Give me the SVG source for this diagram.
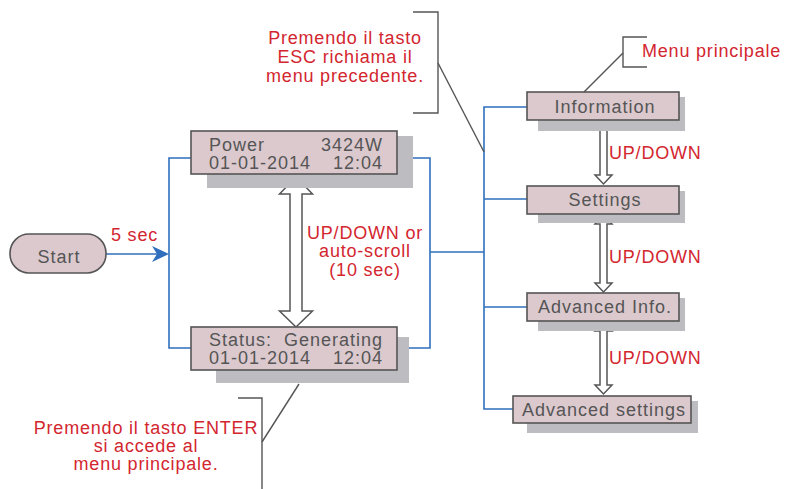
<svg xmlns="http://www.w3.org/2000/svg" width="785" height="489" viewBox="0 0 785 489">
<style>
.box{fill:#dbc9ce;stroke:#555;stroke-width:1.6}
.sh{fill:#bdbdc1}
.t{font-family:"Liberation Sans",Arial,sans-serif;font-size:18px;fill:#555;letter-spacing:1px}
.r{font-family:"Liberation Sans",Arial,sans-serif;font-size:18px;fill:#d3262f;letter-spacing:0.8px}
.c{stroke:#2f6fbd;stroke-width:1.6;fill:none}
.k{stroke:#555;stroke-width:1.4;fill:none}
.ha{fill:#fff;stroke:#555;stroke-width:1.5}
</style>
<rect width="785" height="489" fill="#fff"/>
<g id="connectors">
<path class="c" d="M106,254 H160"/>
<polygon points="169,254 152,246 157,254 152,262" fill="#2f6fbd"/>
<path class="c" d="M191,158 H169 V348 H191"/>
<path class="c" d="M397,158 H430 V348 H409"/>
<path class="c" d="M430,252 H484"/>
<path class="c" d="M527,107 H484 V409 H513"/>
<path class="c" d="M484,199 H527"/>
<path class="c" d="M484,307 H527"/>
<polygon class="ha" points="296,177 312.5,194 302,194 302,311 312.5,311 296,327 279.5,311 290,311 290,194 279.5,194"/>
<polygon class="ha" points="603.5,121 612,130 607,130 607,175 612,175 603.5,184 595,175 600,175 600,130 595,130"/>
<polygon class="ha" points="603.5,215 612,224 607,224 607,283 612,283 603.5,292 595,283 600,283 600,224 595,224"/>
<polygon class="ha" points="603.5,322 612,331 607,331 607,385 612,385 603.5,394 595,385 600,385 600,331 595,331"/>
</g>
<g id="start">
<rect x="10" y="234" width="96" height="39" rx="19" class="box"/>
<text x="59" y="263" class="t" text-anchor="middle">Start</text>
</g>
<g id="power">
<rect x="207" y="136" width="206" height="52" class="sh"/>
<rect x="191" y="131" width="206" height="43" class="box"/>
<text x="209" y="151" class="t">Power</text>
<text x="383" y="151" class="t" text-anchor="end">3424W</text>
<text x="209" y="169" class="t">01-01-2014</text>
<text x="383" y="169" class="t" text-anchor="end">12:04</text>
</g>
<g id="status">
<rect x="216" y="337" width="193" height="46" class="sh"/>
<rect x="191" y="327" width="206" height="43" class="box"/>
<text x="209" y="346" class="t">Status:</text>
<text x="383" y="346" class="t" text-anchor="end">Generating</text>
<text x="209" y="364" class="t">01-01-2014</text>
<text x="383" y="364" class="t" text-anchor="end">12:04</text>
</g>
<g id="information">
<rect x="538" y="97" width="147" height="34" class="sh"/>
<rect x="527" y="92" width="152" height="28" class="box"/>
<text x="605" y="113" class="t" text-anchor="middle">Information</text>
</g>
<g id="settings">
<rect x="538" y="191" width="147" height="32" class="sh"/>
<rect x="527" y="186" width="152" height="28" class="box"/>
<text x="605" y="206" class="t" text-anchor="middle">Settings</text>
</g>
<g id="advanced-info">
<rect x="538" y="298" width="147" height="33" class="sh"/>
<rect x="527" y="293" width="152" height="28" class="box"/>
<text x="605" y="313" class="t" text-anchor="middle">Advanced Info.</text>
</g>
<g id="advanced-settings">
<rect x="527" y="401" width="171" height="32" class="sh"/>
<rect x="513" y="396" width="178" height="27" class="box"/>
<text x="604" y="416" class="t" text-anchor="middle">Advanced settings</text>
</g>
<g id="labels">
<text x="111" y="241" class="r">5 sec</text>
<text x="365" y="239" class="r" text-anchor="middle">UP/DOWN or</text>
<text x="365" y="257" class="r" text-anchor="middle">auto-scroll</text>
<text x="365" y="276" class="r" text-anchor="middle">(10 sec)</text>
<text x="609" y="159" class="r">UP/DOWN</text>
<text x="609" y="263" class="r">UP/DOWN</text>
<text x="609" y="364" class="r">UP/DOWN</text>
</g>
<g id="note-esc">
<path class="k" d="M413,12 H438 V113 H413"/>
<path class="k" d="M438,63 L484,152"/>
<text x="345" y="44" class="r" text-anchor="middle">Premendo il tasto</text>
<text x="345" y="63" class="r" text-anchor="middle">ESC richiama il</text>
<text x="345" y="82" class="r" text-anchor="middle">menu precedente.</text>
</g>
<g id="note-menu">
<path class="k" d="M647,37 H623 V67 H647"/>
<path class="k" d="M623,53 L584,92"/>
<text x="642" y="57" class="r">Menu principale</text>
</g>
<g id="note-enter">
<path class="k" d="M238,398 H262 V489"/>
<path class="k" d="M262,442 L299,384"/>
<text x="146" y="434" class="r" text-anchor="middle">Premendo il tasto ENTER</text>
<text x="146" y="452" class="r" text-anchor="middle">si accede al</text>
<text x="146" y="470" class="r" text-anchor="middle">menu principale.</text>
</g>
</svg>
